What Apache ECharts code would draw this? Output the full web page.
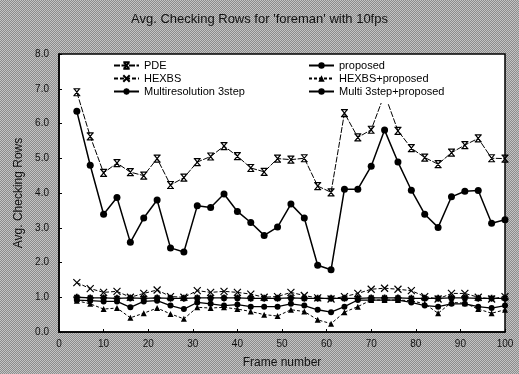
<!DOCTYPE html>
<html><head><meta charset="utf-8">
<script src="https://cdn.jsdelivr.net/npm/echarts@6/dist/echarts.min.js"></script>
<style>
html,body{margin:0;padding:0;width:519px;height:374px;overflow:hidden;
background:#a6a6a6 repeating-conic-gradient(#8c8c8c 0 25%, #c4c4c4 0 50%) 0 0/2px 2px;}
#c{width:519px;height:374px;}
</style></head>
<body><div id="c"></div>
<script>
const frames = [4,7,10,13,16,19,22,25,28,31,34,37,40,43,46,49,52,55,58,61,64,67,70,73,76,79,82,85,88,91,94,97,100];
const pde = [6.90,5.63,4.58,4.86,4.60,4.50,4.99,4.23,4.44,4.89,5.05,5.35,5.06,4.72,4.61,4.99,4.96,5.00,4.20,4.02,6.30,5.60,5.82,6.85,5.79,5.29,5.02,4.83,5.16,5.38,5.57,5.00,4.99];
const hexbs = [1.42,1.25,1.14,1.17,1.00,1.11,1.21,1.02,1.00,1.19,1.14,1.17,1.14,1.09,1.00,1.02,1.14,1.05,0.98,0.95,1.02,1.11,1.23,1.26,1.23,1.19,1.02,0.95,1.11,1.11,1.00,0.95,1.02];
const multi3 = [1.00,0.98,0.98,0.97,0.98,0.97,0.98,0.97,0.97,0.98,0.98,0.98,0.98,0.97,0.97,0.97,0.98,0.97,0.97,0.97,0.97,0.97,0.98,0.98,0.98,0.97,0.97,0.97,0.98,0.98,0.97,0.97,0.97];
const proposed = [6.35,4.80,3.39,3.87,2.58,3.28,3.80,2.42,2.30,3.63,3.58,3.97,3.47,3.15,2.78,3.02,3.68,3.28,1.92,1.79,4.11,4.11,4.77,5.81,4.89,4.08,3.39,3.01,3.89,4.05,4.07,3.13,3.23];
const hexbsProp = [0.90,0.81,0.66,0.69,0.41,0.54,0.69,0.52,0.38,0.71,0.69,0.71,0.66,0.59,0.50,0.46,0.64,0.59,0.35,0.24,0.57,0.73,0.92,0.92,0.92,0.90,0.81,0.54,0.85,0.83,0.66,0.54,0.64];
const multiProp = [0.92,0.90,0.88,0.88,0.71,0.88,0.90,0.76,0.66,0.85,0.81,0.76,0.79,0.73,0.73,0.73,0.81,0.76,0.64,0.57,0.73,0.92,0.92,0.92,0.92,0.85,0.76,0.73,0.81,0.81,0.73,0.69,0.76];
const seriesNames = ['PDE','HEXBS','Multiresolution 3step','proposed','HEXBS+proposed','Multi 3step+proposed'];
const titleText = "Avg. Checking Rows for 'foreman' with 10fps";

const pair = arr => frames.map((f,i)=>[f,arr[i]]);
const xbar = 'path://M0,0L10,0M0,10L10,10M1,0L9,10M9,0L1,10';
const xmark = 'path://M0,0L10,10M10,0L0,10';
const star = 'path://M5,0L5,10M0,5L10,5M1.5,1.5L8.5,8.5M8.5,1.5L1.5,8.5';
const strokeItem = {color:'#000', borderColor:'#000', borderWidth:1.2};

const chart = echarts.init(document.getElementById('c'), null, {renderer:'canvas'});
chart.setOption({
  backgroundColor:'transparent',
  animation:false,
  textStyle:{fontFamily:'Liberation Sans, Arial, sans-serif'},
  title:{text:titleText, left:'center', top:8,
    textStyle:{fontSize:13, fontWeight:'normal', color:'#111'}},
  grid:{left:59, right:14, top:54, bottom:39, show:true, backgroundColor:'#fff', borderColor:'#000', borderWidth:1.5},
  legend:[
    {data:seriesNames.slice(0,3), orient:'vertical', left:111, top:59, itemWidth:25, itemHeight:8, itemGap:2,
     textStyle:{fontSize:11, color:'#000'}, backgroundColor:'#fff', padding:[1,2]},
    {data:seriesNames.slice(3), orient:'vertical', left:306, top:59, itemWidth:25, itemHeight:8, itemGap:2,
     textStyle:{fontSize:11, color:'#000'}, backgroundColor:'#fff', padding:[1,4,6,2]}
  ],
  xAxis:{type:'value', min:0, max:100, interval:10,
    name:'Frame number', nameLocation:'middle', nameGap:25, nameTextStyle:{fontSize:12, color:'#111'},
    axisLine:{lineStyle:{color:'#000', width:1.5}},
    axisTick:{inside:true, length:3, lineStyle:{color:'#000'}},
    axisLabel:{fontSize:10, color:'#111', margin:7},
    splitLine:{show:false}},
  yAxis:{type:'value', min:0, max:8, interval:1,
    name:'Avg. Checking Rows', nameLocation:'middle', nameGap:31, nameTextStyle:{fontSize:12, color:'#111'},
    axisLine:{show:true, lineStyle:{color:'#000', width:1.5}},
    axisTick:{show:true, inside:true, length:3, lineStyle:{color:'#000'}},
    axisLabel:{fontSize:10, color:'#111', margin:10, formatter:v=>v.toFixed(1)},
    splitLine:{show:false}},
  series:[
    {name:seriesNames[0], type:'line', data:pair(pde), symbol:xbar, symbolSize:7,
     lineStyle:{color:'#000', width:1, type:[6,1.5]}, itemStyle:strokeItem},
    {name:seriesNames[1], type:'line', data:pair(hexbs), symbol:xmark, symbolSize:7,
     lineStyle:{color:'#000', width:1, type:[4,2]}, itemStyle:strokeItem},
    {name:seriesNames[2], type:'line', data:pair(multi3), symbol:star, symbolSize:7,
     lineStyle:{color:'#000', width:1.3}, itemStyle:{color:'#000', borderColor:'#000', borderWidth:1.8}},
    {name:seriesNames[3], type:'line', data:pair(proposed), symbol:'circle', symbolSize:7,
     lineStyle:{color:'#000', width:1.5}, itemStyle:{color:'#000'}},
    {name:seriesNames[4], type:'line', data:pair(hexbsProp), symbol:'triangle', symbolSize:6,
     lineStyle:{color:'#000', width:1, type:[3,2]}, itemStyle:{color:'#000'}},
    {name:seriesNames[5], type:'line', data:pair(multiProp), symbol:'circle', symbolSize:6,
     lineStyle:{color:'#000', width:1.3}, itemStyle:{color:'#000'}}
  ]
});
</script>
</body></html>
